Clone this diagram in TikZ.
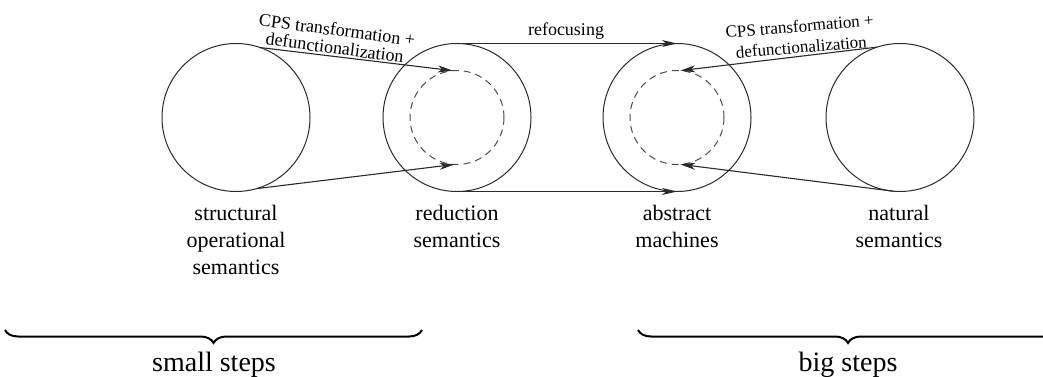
\documentclass[tikz,border=0pt]{standalone}
\usepackage{fontspec}
\setmainfont{Liberation Serif}
\usetikzlibrary{arrows.meta,decorations.pathreplacing}
\definecolor{ink}{HTML}{2A2A2A}
\tikzset{
  circ/.style={circle, draw=ink, line width=1pt, minimum size=148pt, inner sep=0pt, outer sep=0pt},
  dcirc/.style={circle, draw=ink!85, line width=1pt, dash pattern=on 7pt off 5pt, minimum size=94pt, inner sep=0pt, outer sep=0pt},
  conn/.style={draw=ink, line width=1.1pt, -{Stealth[length=15pt,width=7pt,inset=4pt]}},
  lbl/.style={align=center, inner sep=0pt, font=\fontsize{22}{27}\selectfont, text=black},
  albl/.style={align=center, inner sep=0pt, text=black},
  brc/.style={decorate, decoration={brace, mirror, amplitude=13pt}, line width=2pt, draw=black},
  blbl/.style={inner sep=0pt, font=\fontsize{28}{32}\selectfont, text=black}
}
\begin{document}
\begin{tikzpicture}[x=1pt,y=1pt]
\useasboundingbox (0,0) rectangle (1043,376);
\clip (0,0) rectangle (1043,376);
% circles
\node[circ] (c1) at (236,258.5) {};
\node[circ] (c2) at (457,258.5) {};
\node[circ] (c3) at (677,258.5) {};
\node[circ] (c4) at (900,258.5) {};
\node[dcirc] (d2) at (457,258.5) {};
\node[dcirc] (d3) at (677,258.5) {};
% connectors
\draw[conn] (c1.71) -- (d2.95);
\draw[conn] (c1.-74) -- (d2.-93);
\draw[conn] (c2.north) -- (c3.north);
\draw[conn] (c2.south) -- (c3.south);
\draw[conn] (c4.108) -- (d3.86);
\draw[conn] (c4.265) -- (d3.274);
% arrow labels
\node[albl, font=\fontsize{18}{18}\selectfont, rotate=-7.5] (t1) at (336.0,337.4) {CPS transformation +\\defunctionalization};
\node[albl, font=\fontsize{18}{18}\selectfont, anchor=base] (t2) at (566,341) {refocusing};
\node[albl, font=\fontsize{17}{21}\selectfont, rotate=4.7] (t3) at (800.4,339.5) {CPS transformation +\\defunctionalization};
% circle labels
\node[lbl, anchor=base] (l1) at (236,102) {structural\\operational\\semantics};
\node[lbl, anchor=base] (l2) at (457,129) {reduction\\semantics};
\node[lbl, anchor=base] (l3) at (677,129) {abstract\\machines};
\node[lbl, anchor=base] (l4) at (899,129) {natural\\semantics};
% braces
\coordinate (b1s) at (5,46);
\coordinate (b1e) at (422,46);
\coordinate (b2s) at (638,46);
\coordinate (b2e) at (1058,46);
\draw[brc] (b1s) -- (b1e);
\draw[brc] (b2s) -- (b2e);
\node[blbl, anchor=base] (s1) at (214,5) {small steps};
\node[blbl, anchor=base] (s2) at (848,5) {big steps};
\end{tikzpicture}
\end{document}
